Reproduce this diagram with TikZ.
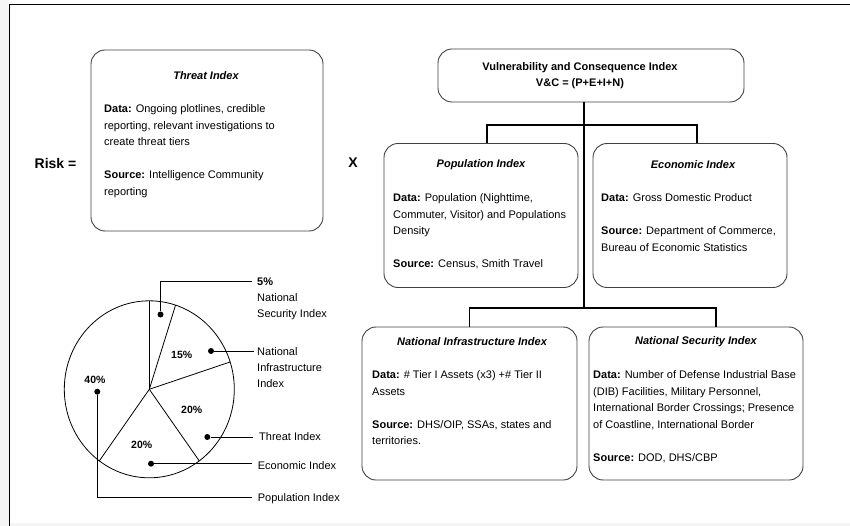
\documentclass[tikz,border=0pt]{standalone}
\usepackage{fontspec}
\setmainfont{Liberation Sans}
\usetikzlibrary{calc,positioning}

\tikzset{
  idxbox/.style={draw=black!75, line width=0.9pt, rounded corners=14pt, inner sep=0pt},
  idxtitle/.style={font=\bfseries\itshape\fontsize{11}{16.5}\selectfont, inner sep=0pt},
  idxtext/.style={font=\fontsize{11}{16.5}\selectfont, align=left, inner sep=0pt, anchor=north west},
  tree/.style={line width=1.6pt},
  lead/.style={line width=0.8pt},
  piedot/.style={circle, fill, inner sep=0pt, minimum size=6pt},
  pielabel/.style={font=\fontsize{11}{16.3}\selectfont, align=left, inner sep=0pt, anchor=west},
  pct/.style={font=\bfseries\fontsize{10.5}{12}\selectfont, inner sep=0pt},
  bigsign/.style={font=\bfseries\fontsize{14}{16}\selectfont, inner sep=0pt}
}

\begin{document}
\begin{tikzpicture}[x=1pt,y=1pt]
\useasboundingbox (0,0) rectangle (850,-526);
\fill[black!4] (0,0) rectangle (9,-526);
\fill[black!4] (9,-523) rectangle (850,-526);
\draw[line width=1pt] (850,-4.5) -- (9.5,-4.5) -- (9.5,-526);

\node[bigsign] (risk) at (55.5,-163) {Risk =};
\node[bigsign] (times) at (353,-163) {X};

% threat box
\node[idxbox, minimum width=232, minimum height=181] (threat) at (207,-140.5) {};
\node[idxtitle] (threattitle) at (206,-76) {Threat Index};
\node[idxtext] (threattext) at (104,-104.5) {\textbf{Data:} Ongoing plotlines, credible\\reporting, relevant investigations to\\create threat tiers\\[16.5pt]\textbf{Source:} Intelligence Community\\reporting};

% vulnerability and consequence
\node[idxbox, minimum width=306, minimum height=53] (vc) at (591,-75.5) {};
\node[font=\bfseries\fontsize{11}{16}\selectfont, align=center, inner sep=0pt] (vctitle) at (580,-76) {Vulnerability and Consequence Index\\V\&C = (P+E+I+N)};

\node[idxbox, minimum width=194, minimum height=144] (pop) at (481,-215.5) {};
\node[idxtitle] (poptitle) at (481,-165) {Population Index};
\node[idxtext] (poptext) at (393,-193.5) {\textbf{Data:} Population (Nighttime,\\Commuter, Visitor) and Populations\\Density\\[16.5pt]\textbf{Source:} Census, Smith Travel};

\node[idxbox, minimum width=194, minimum height=144] (eco) at (690,-215.5) {};
\node[idxtitle] (ecotitle) at (693,-165) {Economic Index};
\node[idxtext] (ecotext) at (601,-193.5) {\textbf{Data:} Gross Domestic Product\\[16.5pt]\textbf{Source:} Department of Commerce,\\Bureau of Economic Statistics};

\node[idxbox, minimum width=215, minimum height=153] (inf) at (469.5,-403.5) {};
\node[idxtitle] (inftitle) at (472,-342) {National Infrastructure Index};
\node[idxtext] (inftext) at (372,-370.5) {\textbf{Data:} \# Tier I Assets (x3) +\# Tier II\\Assets\\[16.5pt]\textbf{Source:} DHS/OIP, SSAs, states and\\territories.};

\node[idxbox, minimum width=214, minimum height=153] (sec) at (696,-403.5) {};
\node[idxtitle] (sectitle) at (696,-342) {National Security Index};
\node[idxtext] (sectext) at (593,-370.5) {\textbf{Data:} Number of Defense Industrial Base\\(DIB) Facilities, Military Personnel,\\International Border Crossings; Presence\\of Coastline, International Border\\[16.5pt]\textbf{Source:} DOD, DHS/CBP};

\coordinate (topbar) at (584,-125);
\coordinate (lowbar) at (584,-308);
\coordinate (popdrop) at (487,-125);
\coordinate (ecodrop) at (697,-125);
\coordinate (infdrop) at (469.5,-308);
\coordinate (secdrop) at (716,-308);
\draw[tree] (vc.south -| topbar) -- (lowbar);
\draw[tree] (popdrop |- pop.north) -- (popdrop) -- (ecodrop) -- (ecodrop |- eco.north);
\draw[tree] (infdrop |- inf.north) -- (infdrop) -- (secdrop) -- (secdrop |- sec.north);

% pie
\coordinate (pc) at (149.3,-389.3);
\draw[lead] (pc) ellipse [x radius=85, y radius=88.5];
\foreach \a in {90,72,18,-54,-126}
  \draw[lead] (pc) -- ++(\a:85 and 88.5);

\node[pct] (p40) at (95,-380) {40\%};
\node[pct] (p15) at (181.7,-355.3) {15\%};
\node[pct] (p20a) at (191.7,-410) {20\%};
\node[pct] (p20b) at (141.7,-445.3) {20\%};

\node[piedot] (dsec) at (160.5,-314.5) {};
\node[piedot] (dinf) at (211,-351) {};
\node[piedot] (dthr) at (207.3,-437) {};
\node[piedot] (deco) at (151,-463.7) {};
\node[piedot] (dpop) at (97.3,-391.7) {};

\coordinate (secend) at (252,-281.7);
\coordinate (infend) at (254,-351);
\coordinate (thrend) at (253.3,-437);
\coordinate (ecoend) at (252.3,-463.7);
\coordinate (popend) at (252,-497.5);
\draw[lead] (dsec) |- (secend);
\draw[lead] (dinf) -- (infend);
\draw[lead] (dthr) -- (thrend);
\draw[lead] (deco) -- (ecoend);
\draw[lead] (dpop) |- (popend);

\node[pielabel] (lsec) at (257,-299) {\textbf{5\%}\\National\\Security Index};
\node[pielabel] (linf) at (257,-367.7) {National\\Infrastructure\\Index};
\node[pielabel] (lthr) at (259,-437) {Threat Index};
\node[pielabel] (leco) at (257.7,-466) {Economic Index};
\node[pielabel] (lpop) at (257.7,-499) {Population Index};
\end{tikzpicture}
\end{document}
